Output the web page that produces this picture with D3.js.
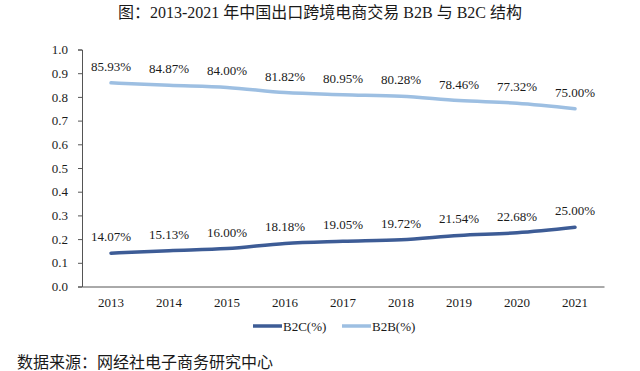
<!DOCTYPE html>
<html>
<head>
<meta charset="utf-8">
<script src="https://cdn.jsdelivr.net/npm/d3@7"></script>
<style>
  body { margin: 0; background: #fff; }
  svg text { font-family: "Liberation Serif", "Noto Sans CJK SC", serif; fill: #1a1a1a; }
</style>
</head>
<body>
<div id="chart"></div>
<script>
// data
const years = ['2013', '2014', '2015', '2016', '2017', '2018', '2019', '2020', '2021'];
const b2c = [0.1407, 0.1513, 0.1600, 0.1818, 0.1905, 0.1972, 0.2154, 0.2268, 0.2500];
const b2b = [0.8593, 0.8487, 0.8400, 0.8182, 0.8095, 0.8028, 0.7846, 0.7732, 0.7500];
const yTicks = [0, 0.1, 0.2, 0.3, 0.4, 0.5, 0.6, 0.7, 0.8, 0.9, 1.0];

const series = [
  { name: 'B2C(%)', values: b2c, color: '#3d5c96' },
  { name: 'B2B(%)', values: b2b, color: '#9dbfe2' }
];

const W = 640, H = 371;
const margin = { top: 49.5, right: 36, bottom: 84.5, left: 82 };
const width = W - margin.left - margin.right;
const height = H - margin.top - margin.bottom;

const svg = d3.select('#chart').append('svg')
  .attr('width', W).attr('height', H);

// Title
svg.append('text')
  .attr('x', W / 2).attr('y', 18)
  .attr('text-anchor', 'middle')
  .attr('font-size', '16px')
  .text('图：2013-2021 年中国出口跨境电商交易 B2B 与 B2C 结构');

const g = svg.append('g')
  .attr('transform', `translate(${margin.left},${margin.top})`);

const x = d3.scaleBand().domain(years).range([0, width]);
const y = d3.scaleLinear().domain([0, 1]).range([height, 0]);

// y axis
const yAxis = g.append('g')
  .call(d3.axisLeft(y).tickValues(yTicks).tickFormat(d3.format('.1f')).tickSize(4).tickPadding(10));
yAxis.selectAll('path, line').attr('stroke', '#555');
yAxis.selectAll('text').attr('font-size', '13px').attr('font-family', '"Liberation Serif", serif').attr('fill', '#1a1a1a');

// x axis
const xAxis = g.append('g')
  .attr('transform', `translate(0,${height})`)
  .call(d3.axisBottom(x).tickSize(0).tickPadding(11));
xAxis.select('.domain').attr('stroke', '#555');
xAxis.selectAll('text').attr('font-size', '13px').attr('font-family', '"Liberation Serif", serif').attr('fill', '#1a1a1a');

const cx = i => x(years[i]) + x.bandwidth() / 2;

const line = d3.line()
  .x((d, i) => cx(i))
  .y(d => y(d))
  .curve(d3.curveMonotoneX);

series.forEach(s => {
  g.append('path')
    .datum(s.values)
    .attr('fill', 'none')
    .attr('stroke', s.color)
    .attr('stroke-width', 3.5)
    .attr('stroke-linecap', 'round')
    .attr('d', line);

  g.selectAll(null)
    .data(s.values)
    .join('text')
    .attr('x', (d, i) => cx(i))
    .attr('y', d => y(d) - 12)
    .attr('text-anchor', 'middle')
    .attr('font-size', '13px')
    .text(d => (d * 100).toFixed(2) + '%');
});

// Legend
const legend = svg.append('g').attr('transform', 'translate(253,326)');
const legendPos = [0, 89];
series.forEach((s, i) => {
  const lg = legend.append('g').attr('transform', `translate(${legendPos[i]},0)`);
  lg.append('line')
    .attr('x1', 0).attr('x2', 29).attr('y1', 0).attr('y2', 0)
    .attr('stroke', s.color).attr('stroke-width', 3.5);
  lg.append('text')
    .attr('x', 30).attr('y', 4.5)
    .attr('font-size', '13px')
    .text(s.name);
});

// Source note
svg.append('text')
  .attr('x', 17).attr('y', 368)
  .attr('font-size', '16px')
  .text('数据来源：网经社电子商务研究中心');
</script>
</body>
</html>
